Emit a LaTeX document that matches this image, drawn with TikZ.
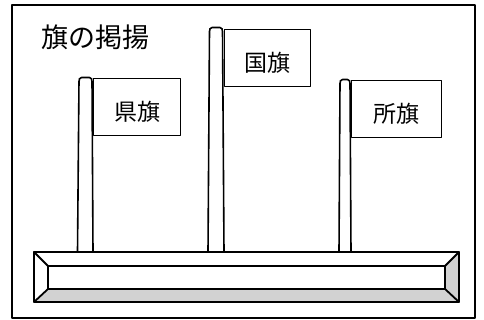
\documentclass[tikz,border=0pt]{standalone}
\usepackage{fontspec}
\newfontfamily\jpfont{Noto Sans CJK JP}
\usetikzlibrary{positioning}

\begin{document}
\begin{tikzpicture}[line cap=round,line join=round,x=1pt,y=-1pt,
    flag/.style={draw,line width=1pt,inner sep=0pt,anchor=north west,minimum height=57pt,text height=31pt,text depth=3pt,font=\jpfont\fontsize{23}{23}\selectfont},
    pole/.style={line width=1.6pt,rounded corners=1.5pt},
    base/.style={line width=1.8pt}]
      \useasboundingbox (0,0) rectangle (484,320);
      \fill[white] (0,0) rectangle (484,320);
      \draw[line width=1.8pt] (12,5) rectangle (475,318);
      \node[anchor=west,inner sep=0pt,font=\jpfont\fontsize{27}{27}\selectfont] (title) at (41,37) {旗の掲揚};
      % poles
      \draw[pole] (77.5,252) -- (79,80) -- (80,77.5) -- (91,77.5) -- (92,80) -- (93,252);
      \draw[pole] (208,252) -- (209.5,30) -- (210.5,27.5) -- (221.5,27.5) -- (222.5,30) -- (224,252);
      \draw[pole] (339,252) -- (340,82) -- (341,79.5) -- (349,79.5) -- (350,82) -- (351,252);
      % flags
      \node[flag,minimum width=87pt] (ken) at (93,78) {県旗\hspace{6pt}};
      \node[flag,minimum width=86pt] (kuni) at (224,29) {国旗\hspace{5pt}};
      \node[flag,minimum width=90pt] (sho) at (351,80) {所旗\hspace{5pt}};
      % base
      \fill[gray!35] (34,302) -- (48,289) -- (445,289) -- (459,302) -- cycle;
      \fill[gray!35] (459,252) -- (445,266) -- (445,289) -- (459,302) -- cycle;
      \draw[base] (34,252) rectangle (459,302);
      \draw[base] (48,266) rectangle (445,289);
      \foreach \a/\b in {34/48,459/445}
      {
        \draw[base] (\a,252) -- (\b,266);
        \draw[base] (\a,302) -- (\b,289);
      }
    \end{tikzpicture}
\end{document}
